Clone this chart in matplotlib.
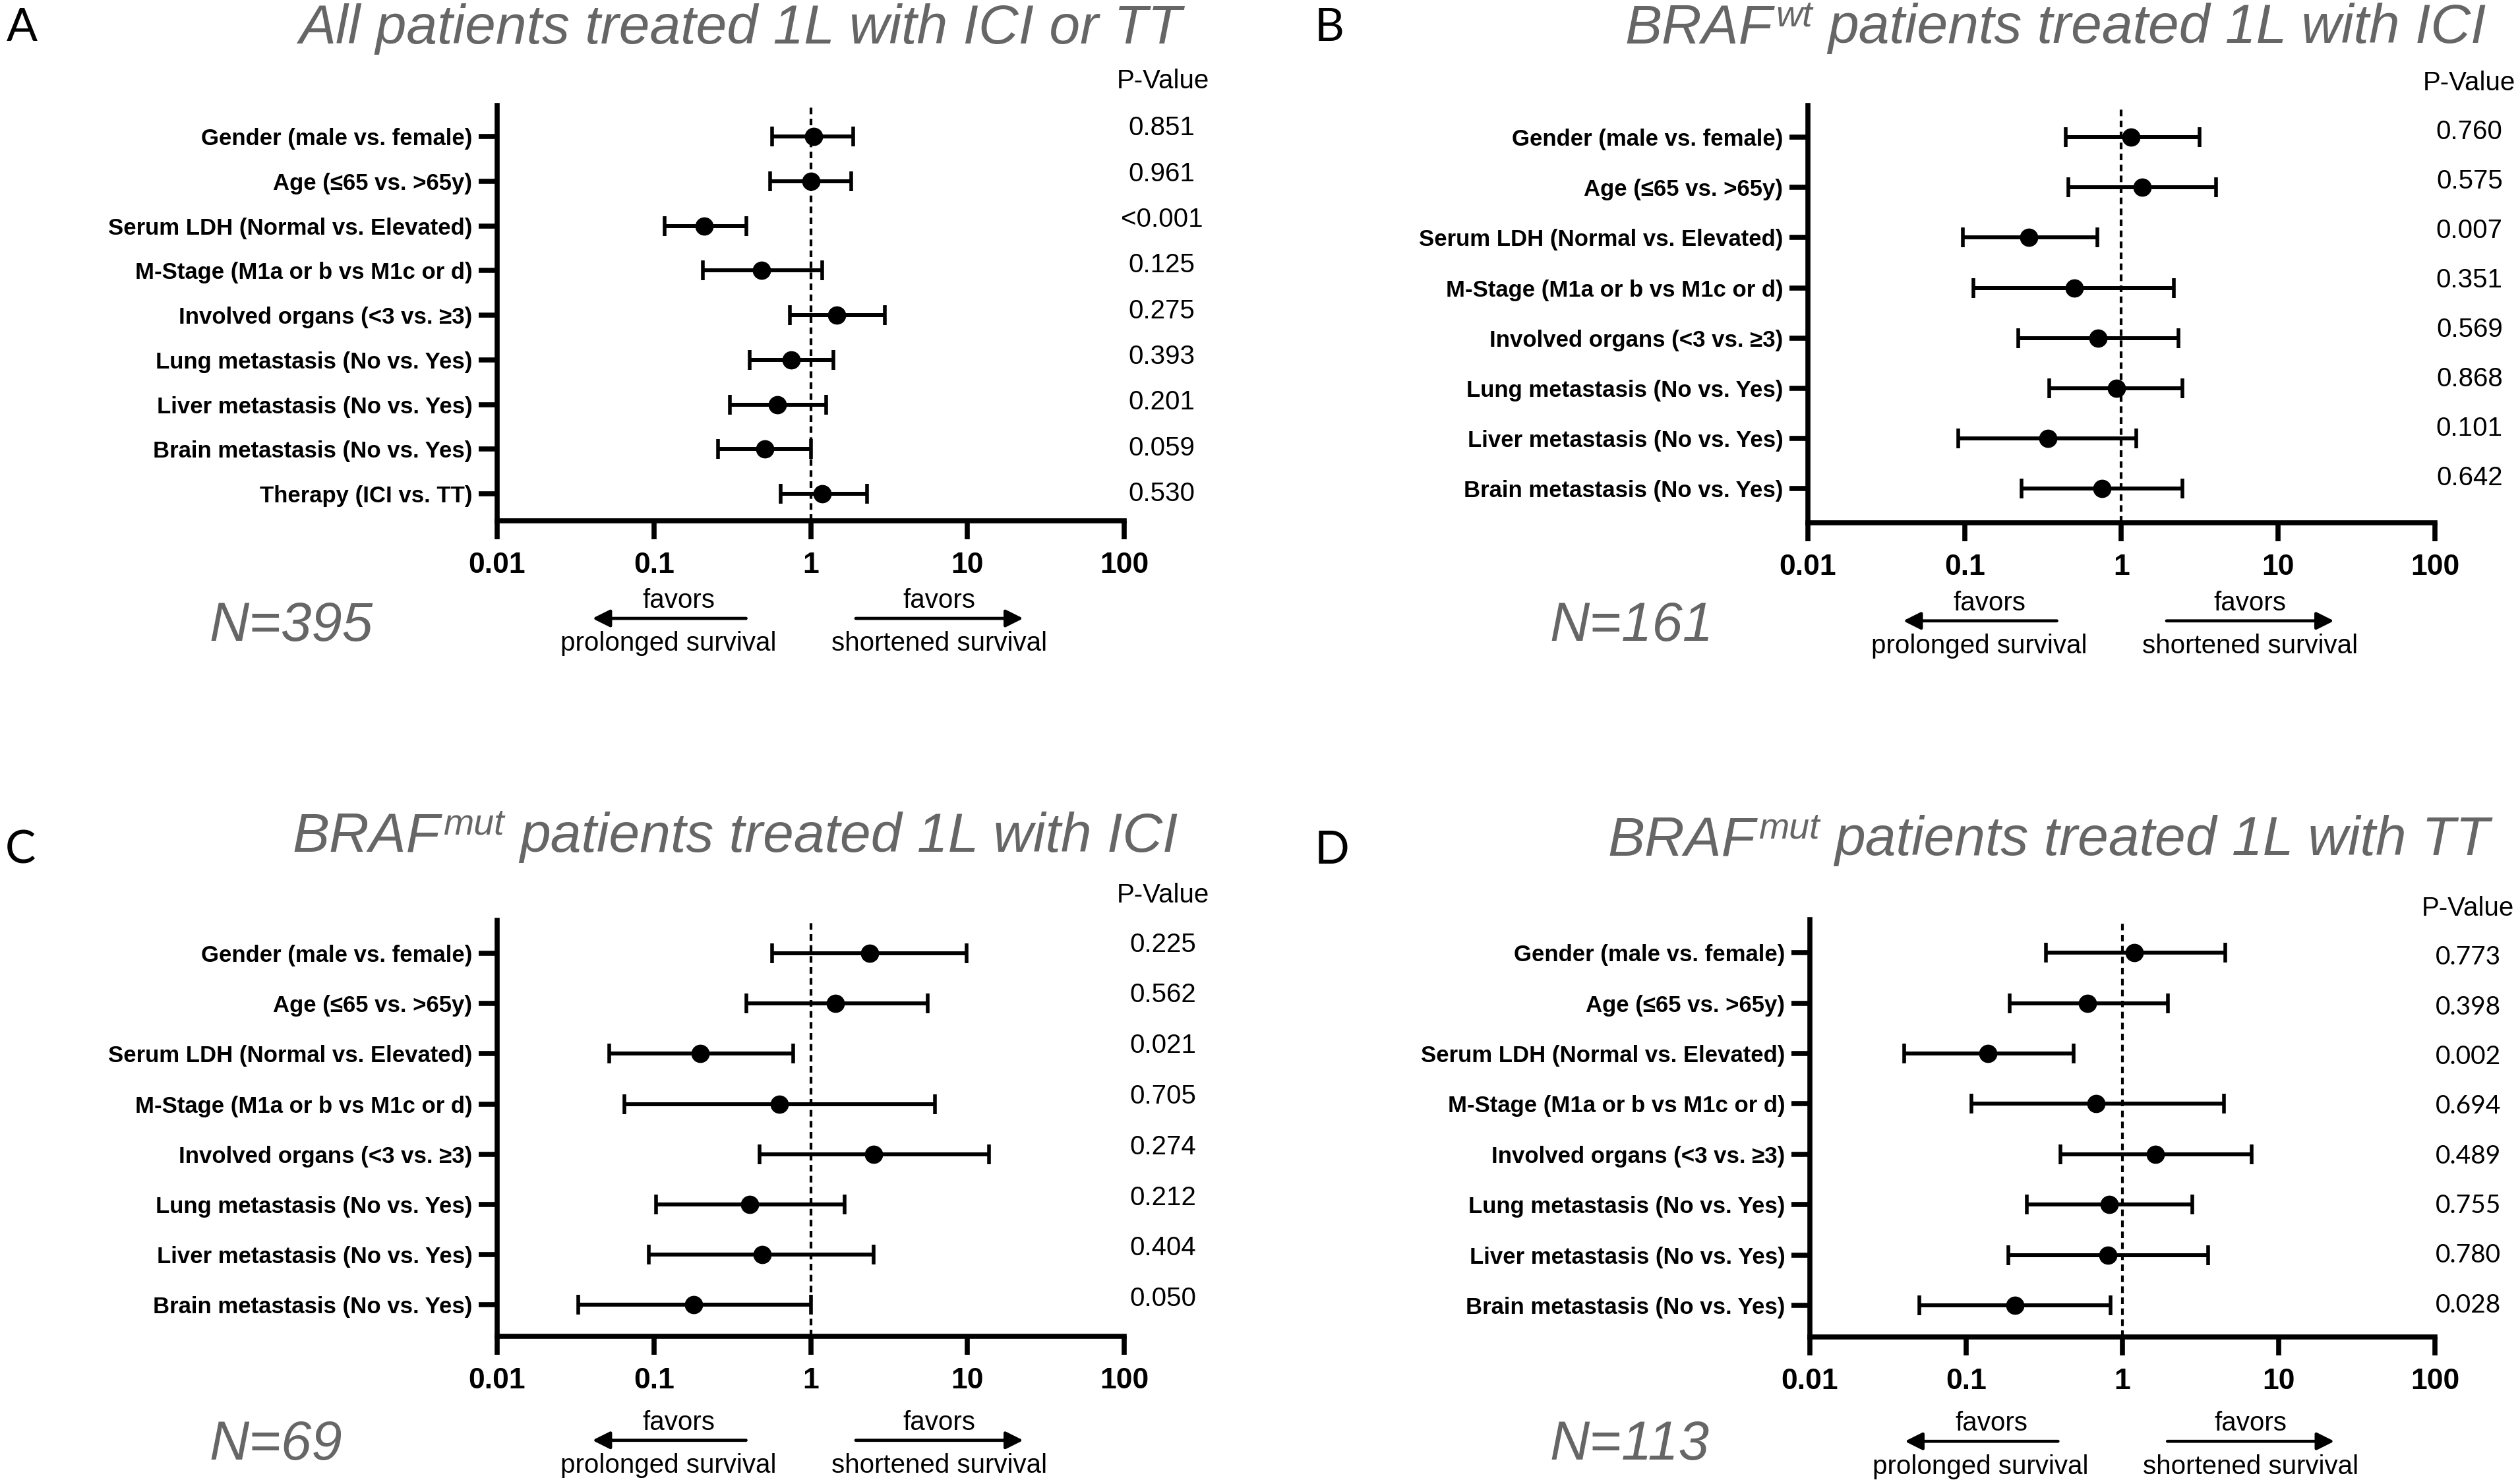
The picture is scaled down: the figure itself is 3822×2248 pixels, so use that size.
import matplotlib
matplotlib.use('Agg')
import matplotlib.pyplot as plt
import matplotlib.transforms as mtransforms
from matplotlib.ticker import NullLocator

plt.rcParams['font.family'] = ['Liberation Sans', 'DejaVu Sans']

# ---------------- data ----------------
cats_A = ['Gender (male vs. female)', 'Age (≤65 vs. >65y)', 'Serum LDH (Normal vs. Elevated)',
          'M-Stage (M1a or b vs M1c or d)', 'Involved organs (<3 vs. ≥3)',
          'Lung metastasis (No vs. Yes)', 'Liver metastasis (No vs. Yes)',
          'Brain metastasis (No vs. Yes)', 'Therapy (ICI vs. TT)']
cats_BCD = cats_A[:8]

hr_A = [1.04, 1.00, 0.21, 0.485, 1.46, 0.75, 0.615, 0.51, 1.19]
lo_A = [0.57, 0.55, 0.117, 0.205, 0.74, 0.41, 0.306, 0.256, 0.645]
hi_A = [1.87, 1.81, 0.39, 1.19, 2.97, 1.39, 1.25, 1.00, 2.29]
p_A = ['0.851', '0.961', '<0.001', '0.125', '0.275', '0.393', '0.201', '0.059', '0.530']

hr_B = [1.15, 1.36, 0.257, 0.50, 0.71, 0.93, 0.34, 0.75]
lo_B = [0.44, 0.46, 0.097, 0.114, 0.22, 0.345, 0.091, 0.23]
hi_B = [3.14, 4.03, 0.70, 2.15, 2.31, 2.45, 1.24, 2.45]
p_B = ['0.760', '0.575', '0.007', '0.351', '0.569', '0.868', '0.101', '0.642']

hr_C = [2.37, 1.44, 0.198, 0.63, 2.52, 0.41, 0.49, 0.18]
lo_C = [0.57, 0.39, 0.052, 0.065, 0.474, 0.103, 0.093, 0.033]
hi_C = [9.9, 5.57, 0.77, 6.19, 13.7, 1.64, 2.52, 1.0]
p_C = ['0.225', '0.562', '0.021', '0.705', '0.274', '0.212', '0.404', '0.050']

hr_D = [1.19, 0.60, 0.138, 0.68, 1.63, 0.82, 0.81, 0.205]
lo_D = [0.325, 0.19, 0.040, 0.108, 0.40, 0.245, 0.186, 0.050]
hi_D = [4.55, 1.96, 0.485, 4.45, 6.7, 2.8, 3.55, 0.84]
p_D = ['0.773', '0.398', '0.002', '0.694', '0.489', '0.755', '0.780', '0.028']

# title pieces: (main, superscript, rest)
titles = [('', '', 'All patients treated 1L with ICI or TT'),
          ('BRAF', 'wt', 'patients treated 1L with ICI'),
          ('BRAF', 'mut', 'patients treated 1L with ICI'),
          ('BRAF', 'mut', 'patients treated 1L with TT')]
n_labels = ['N=395', 'N=161', 'N=69', 'N=113']
letters = ['A', 'B', 'C', 'D']
xticks = [0.01, 0.1, 1, 10, 100]
xticklabels = ['0.01', '0.1', '1', '10', '100']

GRAY = '#666666'
W, H = 3823, 2248
fig = plt.figure(figsize=(W / 100, H / 100), dpi=100)
renderer = fig.canvas.get_renderer()
PIX = mtransforms.IdentityTransform()


def fx(px):
    return px / W


def fy(py):
    return 1 - py / H


def panel(rect, cats, hr, lo, hi, pv, ylim, p_x, p_off, p_step, arrow_y, pfont=None, pfs=29):
    ax = fig.add_axes(rect)
    n = len(cats)
    ys = list(range(n))
    xerr = [[h - l for h, l in zip(hr, lo)], [u - h for h, u in zip(hr, hi)]]
    ax.axvline(1, color='black', lw=3, ls=(0, (2.4, 1.6)), zorder=2)
    ax.errorbar(hr, ys, xerr=xerr, fmt='o', color='black', ms=19, elinewidth=4.3,
                capsize=11, capthick=4, zorder=3)
    ax.set_xscale('log')
    ax.set_xlim(0.01, 100)
    ax.set_ylim(*ylim)
    ax.set_xticks(xticks)
    ax.set_xticklabels(xticklabels, fontsize=32, fontweight='bold')
    ax.xaxis.set_minor_locator(NullLocator())
    ax.set_yticks(ys)
    ax.set_yticklabels(cats, fontsize=25, fontweight='bold')
    ax.spines['top'].set_visible(False)
    ax.spines['right'].set_visible(False)
    for s in ('left', 'bottom'):
        ax.spines[s].set_linewidth(5.5)
    ax.tick_params(axis='x', length=20, width=5.5, pad=14)
    ax.tick_params(axis='y', length=20, width=5.5, pad=7)
    ax.patch.set_alpha(0)
    tr = mtransforms.blended_transform_factory(ax.transAxes, ax.transData)
    kw = {}
    if pfont:
        kw['family'] = pfont
    for i, p in enumerate(pv):
        ax.text(p_x, p_off + i * p_step, p, transform=tr, ha='center', va='center',
                fontsize=pfs, **kw)
    fav_y, arr_y, surv_y = arrow_y
    ax.text(0.29, fav_y, 'favors', transform=ax.transAxes, ha='center', va='baseline', fontsize=29)
    ax.text(0.273, surv_y, 'prolonged survival', transform=ax.transAxes, ha='center', va='baseline', fontsize=29)
    ax.text(0.705, fav_y, 'favors', transform=ax.transAxes, ha='center', va='baseline', fontsize=29)
    ax.text(0.705, surv_y, 'shortened survival', transform=ax.transAxes, ha='center', va='baseline', fontsize=29)
    ap = dict(arrowstyle='-|>', lw=3.4, color='black', mutation_scale=40, shrinkA=0, shrinkB=0)
    ax.annotate('', xy=(0.152, arr_y), xytext=(0.397, arr_y), xycoords='axes fraction',
                textcoords='axes fraction', arrowprops=ap)
    ax.annotate('', xy=(0.839, arr_y), xytext=(0.572, arr_y), xycoords='axes fraction',
                textcoords='axes fraction', arrowprops=ap)
    return ax


# Panel A
axA = panel([fx(754), fy(790), fx(951), (790 - 160) / H], cats_A, hr_A, lo_A, hi_A, p_A,
            (8.605, -0.694), 1.06, -0.19, 1.024, (-0.2095, -0.235, -0.313))
# Panel B
axB = panel([fx(2742), fy(793), fx(951), (793 - 160) / H], cats_BCD, hr_B, lo_B, hi_B, p_B,
            (7.676, -0.63), 1.055, -0.105, 0.984, (-0.2095, -0.235, -0.313))
# Panel C
axC = panel([fx(754), fy(2027), fx(951), (2027 - 1396) / H], cats_BCD, hr_C, lo_C, hi_C, p_C,
            (7.63, -0.66), 1.062, -0.18, 1.009, (-0.225, -0.25, -0.328))
# Panel D
axD = panel([fx(2745), fy(2028), fx(948), (2028 - 1395) / H], cats_BCD, hr_D, lo_D, hi_D, p_D,
            (7.63, -0.66), 1.053, 0.09, 0.987, (-0.225, -0.25, -0.328), pfont=['Lato', 'DejaVu Sans'], pfs=28)

# Titles (built from pieces so the superscript can be placed like the reference)
TFS = 60.5
SFS = 40
space_px = 0.278 * TFS * 100 / 72
title_pos = [(1792, 66), (3770, 65), (1786, 1292), (3776, 1297)]
tkw = dict(va='baseline', style='italic', color=GRAY, transform=PIX)
for (main, sup, rest), (x, y) in zip(titles, title_pos):
    xb = x
    yb = H - y
    t = fig.text(xb, yb, rest, ha='right', fontsize=TFS, **tkw)
    left = t.get_window_extent(renderer).x0
    if sup:
        ts = fig.text(left - space_px, yb + 26, sup, ha='right', fontsize=SFS, **tkw)
        left2 = ts.get_window_extent(renderer).x0
        fig.text(left2 - 4, yb, main, ha='right', fontsize=TFS, **tkw)

# Panel letters
letter_pos = [(10, 62), (1994, 62), (8, 1310), (1994, 1310)]
for l, (x, y) in zip(letters, letter_pos):
    fig.text(fx(x), fy(y), l, ha='left', va='baseline', fontsize=50,
             family=['Lato', 'DejaVu Sans'])

# P-Value headers
pv_pos = [(1764, 123), (3745, 126), (1764, 1358), (3743, 1378)]
for (x, y) in pv_pos:
    fig.text(fx(x), fy(y), 'P-Value', ha='center', va='center', fontsize=29)

# N labels
n_pos = [(317, 972), (2350, 972), (317, 2214), (2350, 2214)]
for t, (x, y) in zip(n_labels, n_pos):
    fig.text(fx(x), fy(y), t, ha='left', va='baseline', fontsize=60, style='italic', color=GRAY)

fig.savefig('out.png', dpi=100, facecolor='white')
